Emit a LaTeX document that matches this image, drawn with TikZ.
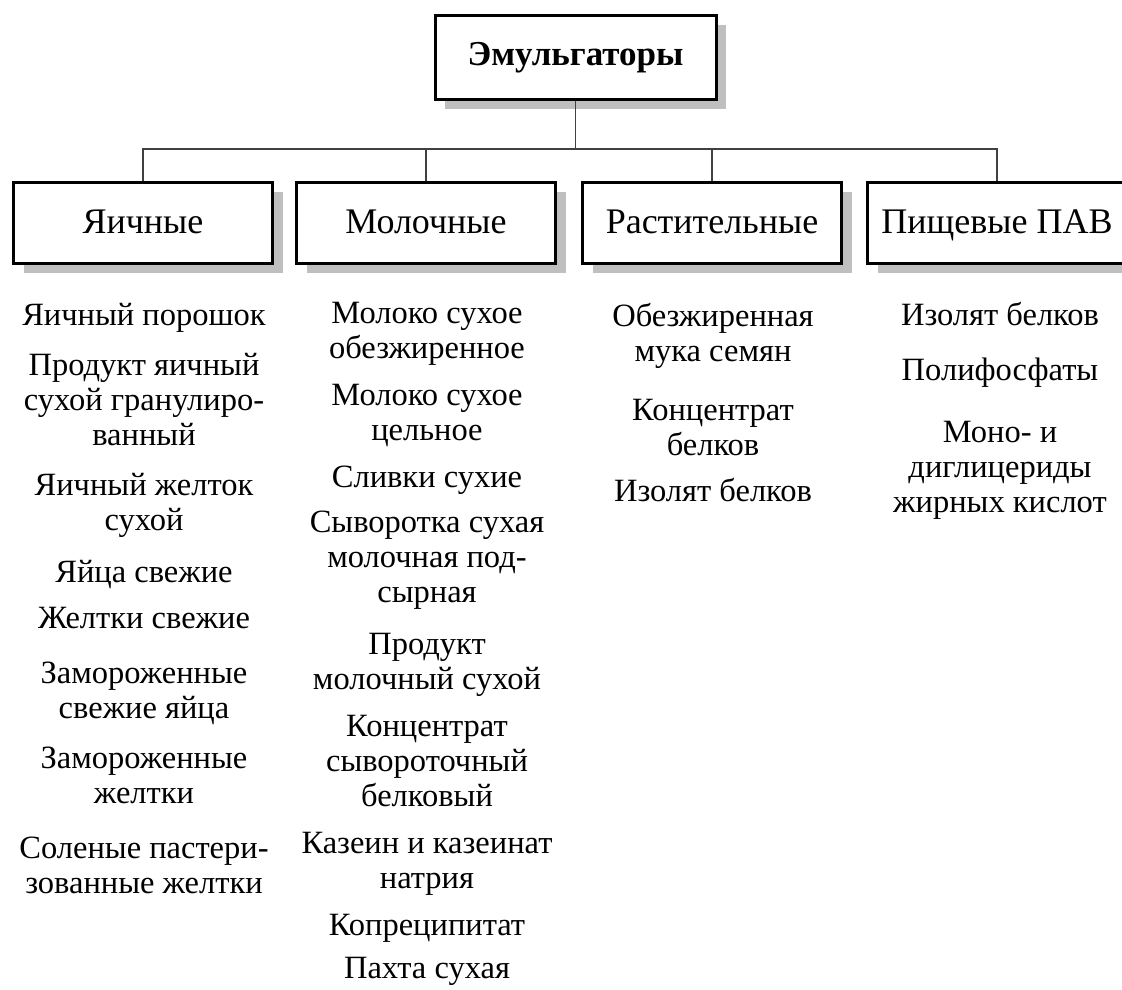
\documentclass[tikz,border=0pt]{standalone}
\usepackage{fontspec}
\setmainfont{Liberation Serif}
\usetikzlibrary{shadows}
\begin{document}
\begin{tikzpicture}[x=1pt,y=-1pt,
  boxbase/.style={draw=black, line width=3pt, fill=white, inner sep=0pt,
    drop shadow={shadow xshift=10pt, shadow yshift=-10pt, fill=black!25, opacity=1}},
  topbox/.style={boxbase, minimum width=281pt, minimum height=84pt,
    text height=25pt, text depth=9pt,
    font=\fontsize{35}{40}\selectfont\bfseries},
  catbox/.style={boxbase, minimum width=259pt, minimum height=81pt,
    text height=26pt, text depth=5pt,
    font=\fontsize{36}{40}\selectfont},
  item/.style={align=center, anchor=base, inner sep=0pt,
    font=\fontsize{32.5}{35}\selectfont},
  conn/.style={draw=black!75, line width=1.5pt}]
\useasboundingbox (0,0) rectangle (1122,989);

\node[topbox] (top) at (575.5,57) {Эмульгаторы};
\node[catbox] (c1) at (143,222.5) {Яичные};
\node[catbox] (c2) at (426,222.5) {Молочные};
\node[catbox] (c3) at (712,222.5) {Растительные};
\node[catbox] (c4) at (997,222.5) {Пищевые ПАВ};

\coordinate (bar) at (575.5,149);
\draw[conn] (top.south) -- (bar);
\draw[conn] (bar) -| (c1.north);
\draw[conn] (bar) -| (c2.north);
\draw[conn] (bar) -| (c3.north);
\draw[conn] (bar) -| (c4.north);

% column 1 (anchor = baseline of the last line)
\node[item] (a1) at (144,325) {Яичный порошок};
\node[item] (a2) at (144,445) {Продукт яичный\\сухой гранулиро-\\ванный};
\node[item] (a3) at (144,530) {Яичный желток\\сухой};
\node[item] (a4) at (144,582) {Яйца свежие};
\node[item] (a5) at (144,628) {Желтки свежие};
\node[item] (a6) at (144,718) {Замороженные\\свежие яйца};
\node[item] (a7) at (144,803) {Замороженные\\желтки};
\node[item] (a8) at (144,893) {Соленые пастери-\\зованные желтки};

% column 2
\node[item] (b1) at (427,358) {Молоко сухое\\обезжиренное};
\node[item] (b2) at (427,440) {Молоко сухое\\цельное};
\node[item] (b3) at (427,487) {Сливки сухие};
\node[item] (b4) at (427,602) {Сыворотка сухая\\молочная под-\\сырная};
\node[item] (b5) at (427,689) {Продукт\\молочный сухой};
\node[item] (b6) at (427,806) {Концентрат\\сывороточный\\белковый};
\node[item] (b7) at (427,888) {Казеин и казеинат\\натрия};
\node[item] (b8) at (427,935) {Копреципитат};
\node[item] (b9) at (427,978) {Пахта сухая};

% column 3
\node[item] (d1) at (713,361) {Обезжиренная\\мука семян};
\node[item] (d2) at (713,455) {Концентрат\\белков};
\node[item] (d3) at (713,501) {Изолят белков};

% column 4
\node[item] (e1) at (1000,325) {Изолят белков};
\node[item] (e2) at (1000,380) {Полифосфаты};
\node[item] (e3) at (1000,512) {Моно- и\\диглицериды\\жирных кислот};
\end{tikzpicture}
\end{document}
